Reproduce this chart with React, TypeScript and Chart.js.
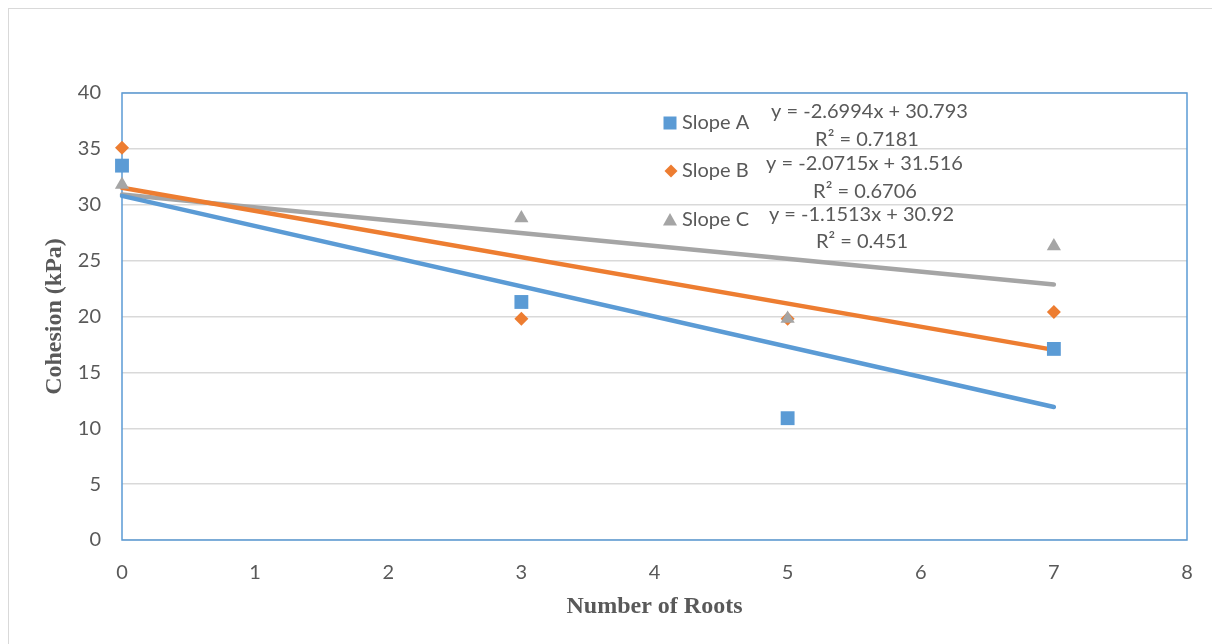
import React, { useEffect, useRef } from "react";
import { Chart, registerables } from "chart.js";

Chart.register(...registerables);

// ---- Data ----
const rootCounts = [0, 3, 5, 7];
const slopeA = [33.5, 21.3, 10.9, 17.1];
const slopeB = [35.1, 19.8, 19.8, 20.4];
const slopeC = [31.8, 28.8, 19.8, 26.3];
const seriesNames = ["Slope A", "Slope B", "Slope C"];
const trendSlopes = [-2.6994, -2.0715, -1.1513];
const trendIntercepts = [30.793, 31.516, 30.92];
const rSquaredLabels = ["0.7181", "0.6706", "0.451"];
const trendXRange = [0, 7];
const equationLabels = [
  "y = -2.6994x + 30.793",
  "y = -2.0715x + 31.516",
  "y = -1.1513x + 30.92",
];
const xTitle = "Number of Roots";
const yTitle = "Cohesion (kPa)";

// ---- Styles ----
const COLORS = ["#5B9BD5", "#ED7D31", "#A5A5A5"];
const TEXT = "#595959";
const TICK_FONT = { family: "Lato", size: 20 };
const TITLE_FONT = { family: "Liberation Serif", size: 24, weight: "bold" as const };

function drawMarker(ctx: CanvasRenderingContext2D, kind: number, x: number, y: number, color: string) {
  ctx.fillStyle = color;
  ctx.beginPath();
  if (kind === 0) {
    ctx.rect(x - 6.5, y - 6.5, 13, 13);
  } else if (kind === 1) {
    ctx.moveTo(x, y - 6.5);
    ctx.lineTo(x + 6.5, y);
    ctx.lineTo(x, y + 6.5);
    ctx.lineTo(x - 6.5, y);
    ctx.closePath();
  } else {
    ctx.moveTo(x, y - 7);
    ctx.lineTo(x + 7, y + 5.5);
    ctx.lineTo(x - 7, y + 5.5);
    ctx.closePath();
  }
  ctx.fill();
}

const framePlugin = {
  id: "plotFrame",
  beforeDatasetsDraw(chart: any) {
    const { ctx, chartArea } = chart;
    ctx.save();
    ctx.strokeStyle = "#5B9BD5";
    ctx.lineWidth = 1.5;
    ctx.strokeRect(chartArea.left, chartArea.top, chartArea.right - chartArea.left, chartArea.bottom - chartArea.top);
    ctx.restore();
  },
};

const legendPlugin = {
  id: "legendEquations",
  afterDatasetsDraw(chart: any) {
    const { ctx } = chart;
    ctx.save();
    const markerX = [661, 662, 661];
    const rowY = [114, 162, 211];
    const eqX = [860.5, 855.5, 852.5];
    const eqY = [103, 155, 206];
    const rX = [858, 856, 853];
    const rY = [131, 183, 233];
    ctx.font = "20px Lato";
    ctx.textBaseline = "middle";
    for (let i = 0; i < 3; i++) {
      drawMarker(ctx, i, markerX[i], rowY[i], COLORS[i]);
      ctx.fillStyle = TEXT;
      ctx.textAlign = "left";
      ctx.fillText(seriesNames[i], 673, rowY[i]);
      ctx.textAlign = "center";
      ctx.fillText(equationLabels[i], eqX[i], eqY[i]);
      ctx.fillText("R\u00B2 = " + rSquaredLabels[i], rX[i], rY[i]);
    }
    ctx.restore();
  },
};

export default function App() {
  const canvasRef = useRef<HTMLCanvasElement | null>(null);

  useEffect(() => {
    if (!canvasRef.current) return;
    const scatterSets = [slopeA, slopeB, slopeC];
    const pointStyles = ["rect", "rectRot", "triangle"];
    const radii = [9.8, 7, 8.2];

    const trendSets = [2, 1, 0].map((i) => ({
      type: "line" as const,
      label: seriesNames[i] + " trend",
      data: trendXRange.map((x) => ({ x, y: trendSlopes[i] * x + trendIntercepts[i] })),
      borderColor: COLORS[i],
      backgroundColor: COLORS[i],
      borderWidth: 4.5,
      borderCapStyle: "round" as const,
      pointRadius: 0,
      showLine: true,
      fill: false,
      clip: false as any,
      order: 10 + i,
    }));

    const markerSets = scatterSets.map((arr, i) => ({
      type: "scatter" as const,
      label: seriesNames[i],
      data: rootCounts.map((x, j) => ({ x, y: arr[j] })),
      pointStyle: pointStyles[i],
      pointRadius: radii[i],
      pointBackgroundColor: COLORS[i],
      pointBorderColor: COLORS[i],
      pointBorderWidth: 0,
      showLine: false,
      clip: false as any,
      order: 3 - i,
    }));

    const chart = new Chart(canvasRef.current, {
      type: "scatter",
      data: { datasets: [...trendSets, ...markerSets] as any },
      options: {
        animation: false,
        responsive: false,
        layout: { padding: { left: 0, top: 84, right: 25, bottom: 0 } },
        plugins: { legend: { display: false }, tooltip: { enabled: false } },
        scales: {
          x: {
            type: "linear",
            min: 0,
            max: 8,
            ticks: { stepSize: 1, padding: 13, color: TEXT, font: TICK_FONT },
            grid: { display: false },
            border: { display: false },
            title: { display: true, text: xTitle, color: TEXT, font: TITLE_FONT, padding: { top: 0, bottom: 23 } },
            afterFit: (s: any) => {
              s.height = 104;
            },
          },
          y: {
            type: "linear",
            min: 0,
            max: 40,
            ticks: { stepSize: 5, padding: 21, color: TEXT, font: TICK_FONT },
            grid: { color: "#D9D9D9", lineWidth: 1.5, drawTicks: false },
            border: { display: false },
            title: { display: true, text: yTitle, color: TEXT, font: TITLE_FONT, padding: { top: 31, bottom: 0 } },
            afterFit: (s: any) => {
              s.width = 113;
            },
          },
        },
      },
      plugins: [framePlugin, legendPlugin],
    });
    return () => chart.destroy();
  }, []);

  return (
    <div
      style={{
        position: "fixed",
        left: 8,
        top: 8,
        width: 1203,
        height: 635,
        borderLeft: "1px solid #D9D9D9",
        borderTop: "1px solid #D9D9D9",
        background: "#fff",
      }}
    >
      <canvas ref={canvasRef} width={1203} height={635} style={{ display: "block", width: 1203, height: 635 }} />
    </div>
  );
}
